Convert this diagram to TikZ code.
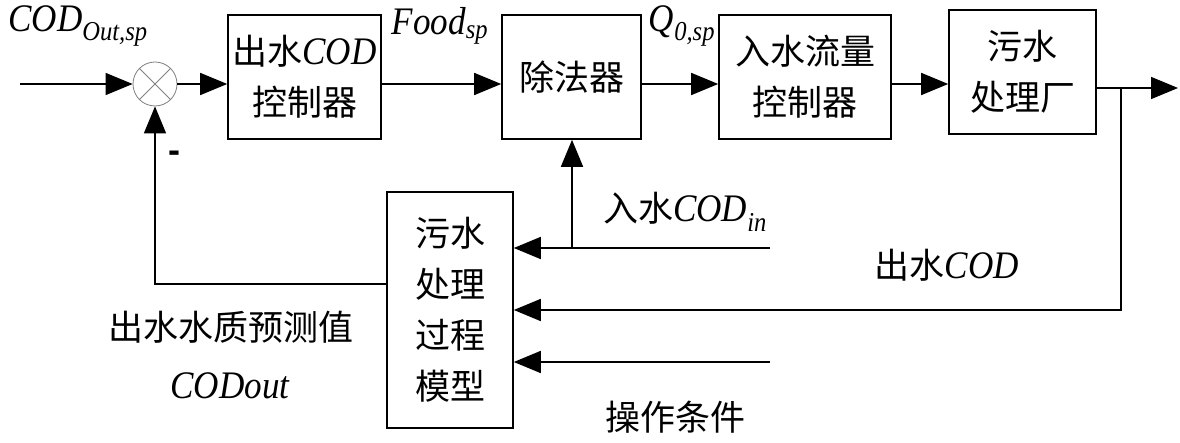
\documentclass[tikz,border=0pt]{standalone}
\usepackage{fontspec}
\setmainfont{Liberation Serif}[FakeStretch=0.9]
\newfontfamily\cjk{Noto Sans CJK SC}
\newfontfamily\sansb{Liberation Sans}
\usetikzlibrary{arrows.meta}
\newcommand\cod[1]{{\rmfamily\itshape\fontsize{39}{51}\selectfont #1}}
\begin{document}
\begin{tikzpicture}[x=1pt,y=-1pt,
  box/.style={draw, line width=1.6pt, align=center, inner sep=0pt, font=\cjk\fontsize{35}{51}\selectfont},
  arr/.style={line width=1.6pt, -{Triangle[length=27pt,width=22pt]}},
  lbl/.style={inner sep=0pt, align=center, font=\fontsize{35}{51}\selectfont}]
\useasboundingbox (0,0) rectangle (1180,443);
\node[draw=gray, line width=0.8pt, circle, minimum size=44pt, inner sep=0pt] (s) at (155,84) {};
\draw[gray, line width=0.8pt] (s.north east) -- (s.south west) (s.north west) -- (s.south east);
\node[box, minimum width=153pt, minimum height=124pt] (b1) at (304.5,77) {出水\cod{COD}\\控制器};
\node[box, minimum width=139pt, minimum height=124pt] (b2) at (571.5,77) {除法器};
\node[box, minimum width=172pt, minimum height=124pt] (b3) at (805,77) {入水流量\\控制器};
\node[box, minimum width=147pt, minimum height=124pt] (b4) at (1022.5,72) {污水\\处理厂};
\node[box, minimum width=126pt, minimum height=236pt] (m) at (450,310) {污水\\处理\\过程\\模型};
\node[lbl] (l1) at (78,26) {\cod{COD\textsubscript{Out,sp}}};
\node[lbl] (l2) at (440,26) {\cod{Food\textsubscript{sp}}};
\node[lbl] (l3) at (682,26) {\cod{Q\textsubscript{0,sp}}};
\node[lbl] (l4) at (685,212) {{\cjk 入水}\cod{COD\textsubscript{in}}};
\node[lbl] (l5) at (947,265) {{\cjk 出水}\cod{COD}};
\node[lbl] (l6) at (675,417) {\cjk 操作条件};
\node[lbl] (l7) at (231,327) {\cjk 出水水质预测值};
\node[lbl] (l8) at (230,386) {\cod{CODout}};
\node[lbl] (minus) at (174,157) {\sansb\bfseries\fontsize{36}{40}\selectfont -};
\coordinate (in) at (20,84);
\coordinate (out) at (1178,88);
\coordinate (br) at (1121,88);
\coordinate (e1) at (770,248);
\coordinate (e2) at (770,362);
\coordinate (j) at (572,248);
\coordinate (fb) at (157,284);
\draw[arr] (in) -- (s.west);
\draw[arr] (s.east) -- (s.east -| b1.west);
\draw[arr] (b1.east |- s) -- (b2.west |- s);
\draw[arr] (b2.east |- s) -- (b3.west |- s);
\draw[arr] (b3.east |- s) -- (b4.west |- s);
\draw[arr] (b4.east |- out) -- (out);
\draw[arr] (br) |- (m.east);
\draw[arr] (e1) -- (e1 -| m.east);
\draw[arr] (j) -- (j |- b2.south);
\draw[arr] (e2) -- (e2 -| m.east);
\draw[arr] (m.west |- fb) -| (s.south);
\end{tikzpicture}
\end{document}
